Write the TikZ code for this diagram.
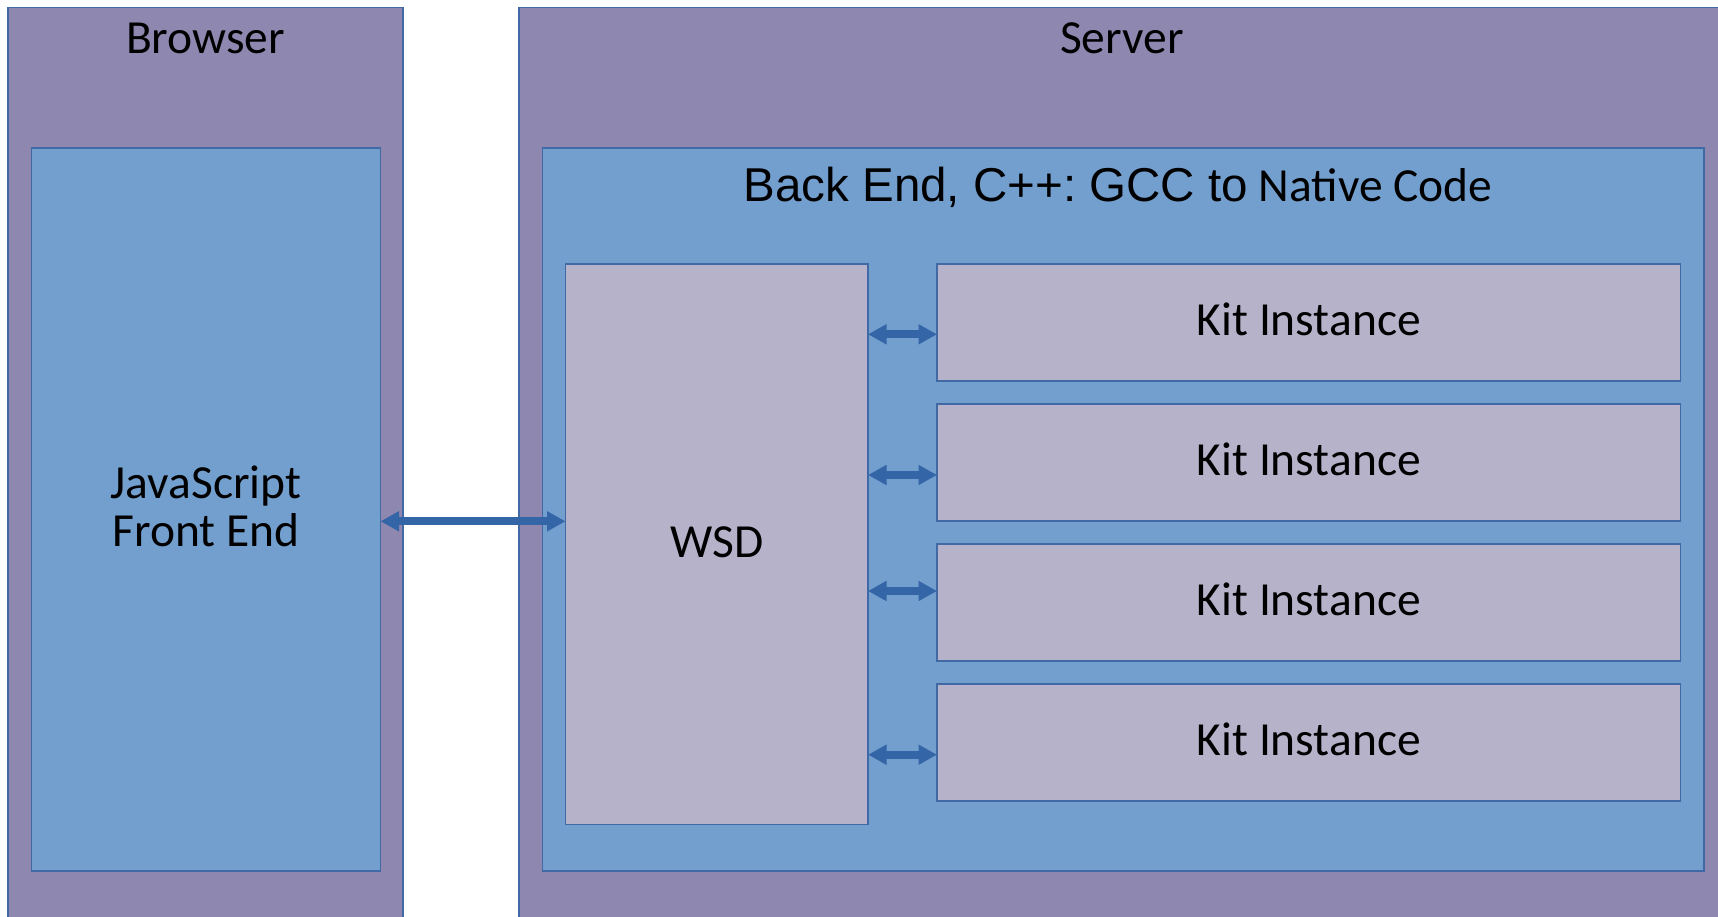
\documentclass[tikz,border=0pt]{standalone}
\usepackage{fontspec}
\setmainfont{Carlito}
\newfontfamily\arialfont{Liberation Sans}
\usetikzlibrary{arrows.meta}
\frenchspacing
\definecolor{outerfill}{RGB}{142,135,175}
\definecolor{innerfill}{RGB}{115,159,207}
\definecolor{compfill}{RGB}{182,178,202}
\definecolor{edgeblue}{RGB}{65,105,165}
\definecolor{arrowblue}{RGB}{52,101,167}
\tikzset{
  outerbox/.style={draw=edgeblue, fill=outerfill, line width=1.2pt, anchor=north west, inner sep=0pt, outer sep=0pt},
  innerbox/.style={draw=edgeblue, fill=innerfill, line width=1.2pt, anchor=north west, inner sep=0pt, outer sep=0pt},
  compbox/.style={draw=edgeblue, fill=compfill, line width=1.2pt, anchor=north west, inner sep=0pt, outer sep=0pt},
  kitbox/.style={compbox, bigfont, text depth=6.6pt, minimum width=743.5pt, minimum height=117pt},
  bigfont/.style={font=\fontsize{47.5}{48}\selectfont\frenchspacing},
  lbl/.style={bigfont, inner sep=0pt, anchor=base},
  dblarrow/.style={draw=arrowblue, line width=8pt, {Triangle[width=19pt,length=18.5pt]}-{Triangle[width=19pt,length=18.5pt]}},
}
\begin{document}
\begin{tikzpicture}[x=1pt,y=-1pt]
\useasboundingbox (0,0) rectangle (1718,916);
\clip (0,0) rectangle (1718,916);
\fill[white] (0,0) rectangle (1718,916);
% outer containers
\node[outerbox, minimum width=395pt, minimum height=930pt] (browser) at (8,7.5) {};
\node[outerbox, minimum width=1220pt, minimum height=930pt] (server) at (519,7.5) {};
\node[lbl] (browsertitle) at (205.5,53.5) {Browser};
\node[lbl] (servertitle) at (1122,53.5) {Server};
% inner containers
\node[innerbox, bigfont, align=center, text depth=6.6pt, minimum width=349pt, minimum height=723pt] (js) at (31.5,148) {JavaScript\\Front End};
\node[innerbox, minimum width=1161.5pt, minimum height=723pt] (backend) at (542.5,148) {};
\node[lbl] (backendtitle) at (1118,201) {{\arialfont Back End, C++: GCC to} Native Code};
% components
\node[compbox, bigfont, text depth=4.4pt, minimum width=302.5pt, minimum height=560.5pt] (wsd) at (565.5,264) {WSD};
\node[kitbox] (kit1) at (937,264) {Kit Instance};
\node[kitbox] (kit2) at (937,404) {Kit Instance};
\node[kitbox] (kit3) at (937,544) {Kit Instance};
\node[kitbox] (kit4) at (937,684) {Kit Instance};
% connectors
\draw[dblarrow] (js.east |- 0,521.3) -- (wsd.west |- 0,521.3);
\draw[dblarrow] (wsd.east |- 0,334.3) -- (kit1.west |- 0,334.3);
\draw[dblarrow] (wsd.east |- 0,475) -- (kit2.west |- 0,475);
\draw[dblarrow] (wsd.east |- 0,591) -- (kit3.west |- 0,591);
\draw[dblarrow] (wsd.east |- 0,754.7) -- (kit4.west |- 0,754.7);
\end{tikzpicture}
\end{document}
